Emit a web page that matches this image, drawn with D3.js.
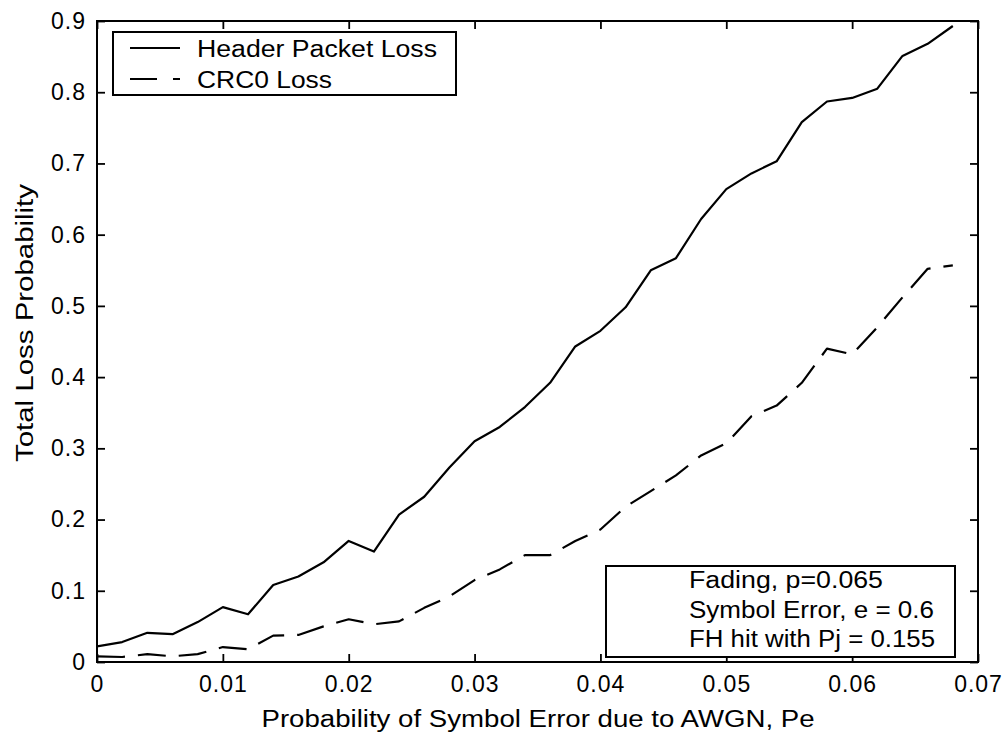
<!DOCTYPE html>
<html>
<head>
<meta charset="utf-8">
<script src="https://cdn.jsdelivr.net/npm/d3@7"></script>
<style>
  html, body { margin: 0; padding: 0; background: #fff; }
  svg { display: block; }
  text { font-family: "Liberation Sans", Arial, sans-serif; fill: #000; }
</style>
</head>
<body>
<svg id="chart" width="1004" height="740"></svg>
<script>
// ---- data ----
const pe = [0, 0.002, 0.004, 0.006, 0.008, 0.010, 0.012, 0.014, 0.016, 0.018,
            0.020, 0.022, 0.024, 0.026, 0.028, 0.030, 0.032, 0.034, 0.036, 0.038,
            0.040, 0.042, 0.044, 0.046, 0.048, 0.050, 0.052, 0.054, 0.056, 0.058,
            0.060, 0.062, 0.064, 0.066, 0.068];
const headerLoss = [0.022, 0.028, 0.041, 0.039, 0.056, 0.077, 0.067, 0.108, 0.120, 0.140,
                    0.170, 0.155, 0.207, 0.232, 0.273, 0.310, 0.330, 0.358, 0.392, 0.443,
                    0.465, 0.498, 0.550, 0.567, 0.622, 0.664, 0.686, 0.703, 0.758, 0.787,
                    0.792, 0.805, 0.851, 0.868, 0.893];
const crcLoss = [0.008, 0.007, 0.011, 0.008, 0.011, 0.021, 0.018, 0.037, 0.038, 0.050,
                 0.060, 0.053, 0.057, 0.076, 0.092, 0.115, 0.130, 0.150, 0.150, 0.170,
                 0.186, 0.218, 0.240, 0.262, 0.290, 0.307, 0.345, 0.360, 0.392, 0.440,
                 0.432, 0.470, 0.512, 0.552, 0.557];
const xTicks = [0, 0.01, 0.02, 0.03, 0.04, 0.05, 0.06, 0.07];
const xTickLabels = ["0", "0.01", "0.02", "0.03", "0.04", "0.05", "0.06", "0.07"];
const yTicks = [0, 0.1, 0.2, 0.3, 0.4, 0.5, 0.6, 0.7, 0.8, 0.9];
const yTickLabels = ["0", "0.1", "0.2", "0.3", "0.4", "0.5", "0.6", "0.7", "0.8", "0.9"];
const seriesNames = ["Header Packet Loss", "CRC0 Loss"];
const annotationLines = ["Fading, p=0.065", "Symbol Error, e = 0.6", "FH hit with Pj = 0.155"];
const xLabel = "Probability of Symbol Error due to AWGN, Pe";
const yLabel = "Total Loss Probability";

// ---- layout ----
const L = 97, R = 978, T = 21, B = 662;
const svg = d3.select("#chart");
const x = d3.scaleLinear().domain([0, 0.07]).range([L, R]);
const y = d3.scaleLinear().domain([0, 0.9]).range([B, T]);
const FS = 23;
const dash = "28,13";

svg.append("clipPath").attr("id", "clip")
  .append("rect").attr("x", L).attr("y", T).attr("width", R - L).attr("height", B - T);

// axes
function styleAxis(g) {
  g.select(".domain").remove();
  g.selectAll(".tick line").attr("stroke", "#000").attr("stroke-width", 1.8);
  g.selectAll(".tick text").attr("font-size", FS).attr("letter-spacing", "1px")
    .attr("font-family", "Liberation Sans, Arial, sans-serif").attr("fill", "#000");
}
const xAxis = d3.axisBottom(x).tickValues(xTicks).tickFormat((d, i) => xTickLabels[i])
  .tickSizeInner(-8).tickSizeOuter(0).tickPadding(14);
svg.append("g").attr("transform", `translate(0,${B})`).call(xAxis).call(styleAxis);
const xAxisTop = d3.axisTop(x).tickValues(xTicks).tickFormat("").tickSizeInner(-8).tickSizeOuter(0);
svg.append("g").attr("transform", `translate(0,${T})`).call(xAxisTop).call(styleAxis);
const yAxis = d3.axisLeft(y).tickValues(yTicks).tickFormat((d, i) => yTickLabels[i])
  .tickSizeInner(-8).tickSizeOuter(0).tickPadding(11);
svg.append("g").attr("transform", `translate(${L},0)`).call(yAxis).call(styleAxis);
const yAxisRight = d3.axisRight(y).tickValues(yTicks).tickFormat("").tickSizeInner(-8).tickSizeOuter(0);
svg.append("g").attr("transform", `translate(${R},0)`).call(yAxisRight).call(styleAxis);

// frame
svg.append("rect").attr("x", L).attr("y", T).attr("width", R - L).attr("height", B - T)
  .attr("fill", "none").attr("stroke", "#000").attr("stroke-width", 2);

// lines
const line = d3.line().x((d, i) => x(pe[i])).y(d => y(d));
const plot = svg.append("g").attr("clip-path", "url(#clip)");
plot.append("path").datum(headerLoss).attr("d", line)
  .attr("fill", "none").attr("stroke", "#000").attr("stroke-width", 2.2).attr("stroke-linejoin", "round");
plot.append("path").datum(crcLoss).attr("d", line)
  .attr("fill", "none").attr("stroke", "#000").attr("stroke-width", 2.2)
  .attr("stroke-dasharray", dash).attr("stroke-linejoin", "round");

// axis labels
svg.append("text").attr("x", 538).attr("y", 727).attr("text-anchor", "middle")
  .attr("font-size", FS).attr("textLength", 553).attr("lengthAdjust", "spacingAndGlyphs").text(xLabel);
svg.append("text").attr("transform", "translate(33,323) rotate(-90)").attr("text-anchor", "middle")
  .attr("font-size", FS).attr("textLength", 278).attr("lengthAdjust", "spacingAndGlyphs").text(yLabel);

// legend
const lg = svg.append("g");
lg.append("rect").attr("x", 113).attr("y", 32).attr("width", 343).attr("height", 63)
  .attr("fill", "#fff").attr("stroke", "#000").attr("stroke-width", 2);
const legendY = [48, 79];
const legendW = [240, 135];
seriesNames.forEach((name, i) => {
  lg.append("line").attr("x1", 130).attr("x2", 180).attr("y1", legendY[i]).attr("y2", legendY[i])
    .attr("stroke", "#000").attr("stroke-width", 2.2)
    .attr("stroke-dasharray", i === 1 ? "27,16" : null);
  lg.append("text").attr("x", 197).attr("y", legendY[i] + 9).attr("font-size", FS)
    .attr("textLength", legendW[i]).attr("lengthAdjust", "spacingAndGlyphs").text(name);
});

// annotation box
const ag = svg.append("g");
ag.append("rect").attr("x", 606).attr("y", 566).attr("width", 349).attr("height", 91)
  .attr("fill", "#fff").attr("stroke", "#000").attr("stroke-width", 2);
const annW = [194, 245, 246];
annotationLines.forEach((t, i) => {
  ag.append("text").attr("x", 689).attr("y", 588 + i * 29.5).attr("font-size", FS)
    .attr("textLength", annW[i]).attr("lengthAdjust", "spacingAndGlyphs").text(t);
});
</script>
</body>
</html>
